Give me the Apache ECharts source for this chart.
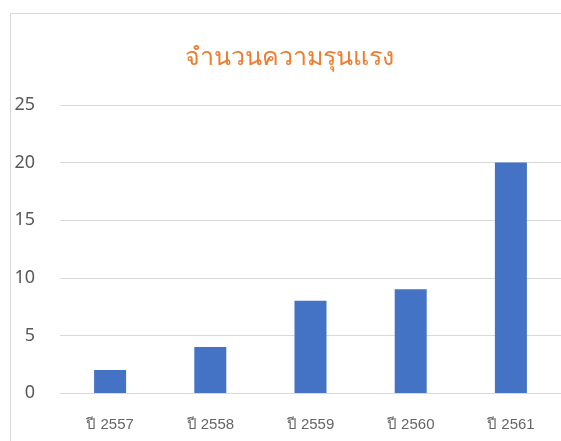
<!DOCTYPE html>
<html><head><meta charset="utf-8">
<script src="https://cdn.jsdelivr.net/npm/echarts@6/dist/echarts.min.js"></script>
<style>html,body{margin:0;padding:0;background:#fff}#c{width:561px;height:441px}</style>
</head><body><div id="c"></div>
<script>
const titleText = "จำนวนความรุนแรง";
const categories = ["ปี 2557", "ปี 2558", "ปี 2559", "ปี 2560", "ปี 2561"];
const values = [2, 4, 8, 9, 20];
const yTicks = [0, 5, 10, 15, 20, 25];

const chart = echarts.init(document.getElementById('c'), null, {renderer: 'canvas'});
chart.setOption({
  animation: false,
  backgroundColor: '#ffffff',
  graphic: [{
    type: 'rect', left: 8, top: 11, z: -1,
    shape: {width: 600, height: 500},
    style: {fill: 'none', stroke: '#d9d9d9', lineWidth: 1}
  }],
  title: {
    text: titleText, left: 284, top: 40, textAlign: 'center',
    textStyle: {color: '#ED7D31', fontSize: 25, fontWeight: 'normal', fontFamily: 'Noto Sans, sans-serif'}
  },
  grid: {left: 60, top: 105, width: 504, height: 288, containLabel: false},
  xAxis: {
    type: 'category', data: categories,
    axisLine: {lineStyle: {color: '#d9d9d9', width: 1}},
    axisTick: {show: false},
    axisLabel: {color: '#666666', fontSize: 15, margin: 24, fontFamily: 'Liberation Sans, Arial, sans-serif'}
  },
  yAxis: {
    type: 'value', min: yTicks[0], max: yTicks[yTicks.length-1], interval: 5,
    axisLine: {show: false}, axisTick: {show: false},
    splitLine: {lineStyle: {color: '#d9d9d9', width: 1}},
    axisLabel: {color: '#595959', fontSize: 18, margin: 25, fontFamily: 'Noto Sans, sans-serif'}
  },
  series: [{
    type: 'bar', data: values, barWidth: 32,
    itemStyle: {color: '#4472C4'}
  }]
});
</script></body></html>
